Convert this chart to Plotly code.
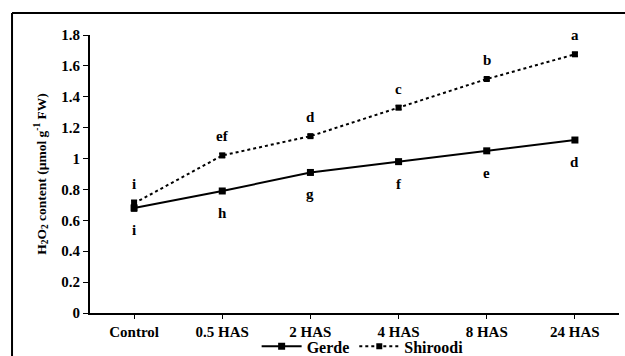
import plotly.graph_objects as go

categories = ["Control", "0.5 HAS", "2 HAS", "4 HAS", "8 HAS", "24 HAS"]
gerde = [0.68, 0.79, 0.91, 0.98, 1.05, 1.12]
gerde_err = [0.02, 0.01, 0.01, 0.01, 0.01, 0.015]
shiroodi = [0.71, 1.02, 1.145, 1.33, 1.515, 1.675]
shiroodi_err = [0.02, 0.012, 0.01, 0.012, 0.01, 0.012]
gerde_letters = ["i", "h", "g", "f", "e", "d"]
shiroodi_letters = ["i", "ef", "d", "c", "b", "a"]
y_ticks = [0, 0.2, 0.4, 0.6, 0.8, 1, 1.2, 1.4, 1.6, 1.8]

FONT = "Liberation Serif, Times New Roman, serif"
x = list(range(len(categories)))

fig = go.Figure()
fig.add_trace(go.Scatter(
    x=x, y=gerde, name="Gerde", mode="lines+markers",
    line=dict(color="black", width=2),
    marker=dict(symbol="square", size=7, color="black"),
    error_y=dict(type="data", array=gerde_err, color="black", thickness=1.5, width=3),
))
fig.add_trace(go.Scatter(
    x=x, y=shiroodi, name="Shiroodi", mode="lines+markers",
    line=dict(color="black", width=2, dash="dot"),
    marker=dict(symbol="square", size=6, color="black"),
    error_y=dict(type="data", array=shiroodi_err, color="black", thickness=1.5, width=3),
))

annotations = []
for i, (v, t) in enumerate(zip(shiroodi, shiroodi_letters)):
    annotations.append(dict(x=i, y=v, text=t, showarrow=False, yshift=19,
                            font=dict(family=FONT, size=15, color="black", weight="bold")))
for i, (v, t) in enumerate(zip(gerde, gerde_letters)):
    annotations.append(dict(x=i, y=v, text=t, showarrow=False, yshift=-22,
                            font=dict(family=FONT, size=15, color="black", weight="bold")))

frame = dict(color="black", width=2)
fig.update_layout(
    width=625, height=356,
    margin=dict(l=90, r=6, t=35, b=43, autoexpand=False),
    paper_bgcolor="white", plot_bgcolor="white",
    font=dict(family=FONT, size=15, color="black", weight="bold"),
    showlegend=True,
    legend=dict(orientation="h", x=0.315, y=-0.12, xanchor="left", yanchor="middle",
                font=dict(family=FONT, size=16, color="black", weight="bold"),
                bgcolor="rgba(0,0,0,0)", itemwidth=40, tracegroupgap=0),
    annotations=annotations,
    shapes=[
        dict(type="line", xref="paper", yref="paper", x0=-0.1474, x1=1.1, y0=1.079, y1=1.079,
             line=frame),
        dict(type="line", xref="paper", yref="paper", x0=-0.1474, x1=-0.1474, y0=1.079, y1=-0.3,
             line=frame),
    ],
)
fig.update_xaxes(
    range=[-0.5, 5.5], tickmode="array", tickvals=x, ticktext=categories,
    tickson="boundaries", ticks="outside", ticklen=4, tickcolor="black",
    showline=True, linecolor="black", linewidth=2, showgrid=False, zeroline=False,
    automargin=False,
    tickfont=dict(family=FONT, size=15, color="black", weight="bold"),
)
fig.update_yaxes(
    range=[0, 1.8], tickmode="array", tickvals=y_ticks, ticktext=[f"{v:g}" for v in y_ticks],
    ticks="outside", ticklen=5, tickcolor="black",
    showline=True, linecolor="black", linewidth=2, showgrid=False, zeroline=False,
    automargin=False,
    tickfont=dict(family=FONT, size=15, color="black", weight="bold"),
    title=dict(text="H<sub>2</sub>O<sub>2</sub> content (µmol g<sup>-1</sup> FW)", standoff=12,
               font=dict(family=FONT, size=13.5, color="black", weight="bold")),
)

fig.write_html("out.html", config={"displayModeBar": False},
               post_script="document.body.style.margin='0';document.body.style.padding='0';")
